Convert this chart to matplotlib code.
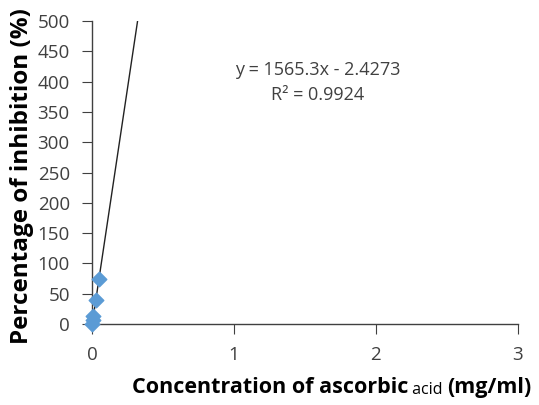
import numpy as np
import matplotlib.pyplot as plt

plt.rcParams['font.family'] = ['Open Sans', 'DejaVu Sans']

# readings (concentration mg/ml, % inhibition)
conc = [0.001, 0.004, 0.008, 0.025, 0.05]
inhib = [0, 6, 14, 40, 75]

# trendline from the chart label
slope = 1565.3
intercept = -2.4273
r2 = 0.9924

xticks = [0, 1, 2, 3]
yticks = [0, 50, 100, 150, 200, 250, 300, 350, 400, 450, 500]

fig = plt.figure(figsize=(5.39, 4.05), dpi=100)
ax = fig.add_axes([0.1707, 0.2, 0.79, 0.748])

t = np.linspace(0, 0.4, 50)
ax.plot(t, slope * t + intercept, color='#222222', lw=1.0, zorder=2)
ax.scatter(conc, inhib, marker='D', s=55, color='#5B9BD5', zorder=3, clip_on=False)

ax.set_xlim(0, 3)
ax.set_ylim(0, 500)
ax.set_xticks(xticks)
ax.set_yticks(yticks)
ax.spines['top'].set_visible(False)
ax.spines['right'].set_visible(False)
for s in ['left', 'bottom']:
    ax.spines[s].set_color('#404040')
    ax.spines[s].set_linewidth(1.0)
ax.tick_params(direction='out', length=7, color='#404040', labelsize=13.5, labelcolor='#404040', pad=9)

ax.text(0.53, 0.838, f"y = {slope}x - {intercept * -1}", transform=ax.transAxes,
        ha='center', va='center', fontsize=13, color='#404040')
ax.text(0.53, 0.756, f"R² = {r2}", transform=ax.transAxes,
        ha='center', va='center', fontsize=13, color='#404040')

fig.text(0.04, 0.565, "Percentage of inhibition (%)", rotation=90, ha='center', va='center',
         fontsize=17.5, fontweight='bold')

# x label with a smaller, plain "acid"
p1 = fig.text(0.245, 0.03, "Concentration of ascorbic", fontsize=15.5, fontweight='bold', va='baseline')
p2 = ax.annotate(" acid ", xy=(1, 0), xycoords=p1, va='bottom', fontsize=11.5)
ax.annotate("(mg/ml)", xy=(1, 0), xycoords=p2, va='bottom', fontsize=15.5, fontweight='bold')

fig.savefig('out.png', dpi=100)
